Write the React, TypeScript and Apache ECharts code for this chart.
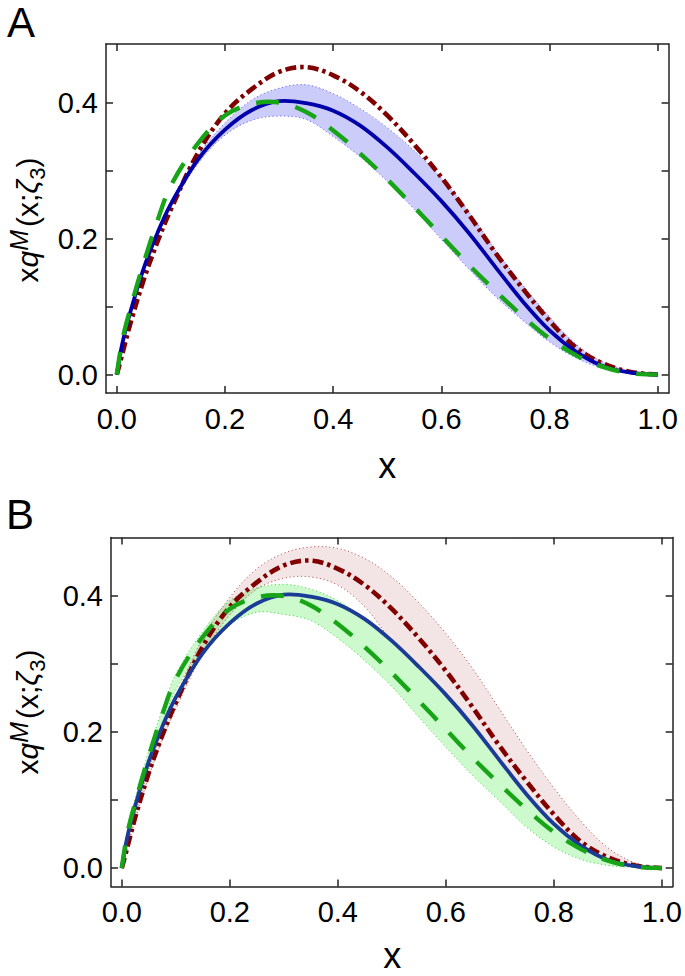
import React, { useEffect, useRef } from "react";
import * as echarts from "echarts";

// x sample positions
const xs = [0, 0.01, 0.025, 0.05, 0.075, 0.1, 0.15, 0.2, 0.25, 0.3, 0.35, 0.4, 0.45, 0.5, 0.55, 0.6, 0.65, 0.7, 0.75, 0.8, 0.85, 0.9, 0.95, 1.0];

// central curves (identical in both panels)
const blueCentral = [0, 0.045, 0.092, 0.157, 0.208, 0.251, 0.316, 0.36, 0.389, 0.402, 0.399, 0.388, 0.366, 0.334, 0.296, 0.255, 0.209, 0.158, 0.108, 0.065, 0.033, 0.012, 0.003, 0];
const redDashDot = [0, 0.03, 0.075, 0.14, 0.195, 0.243, 0.326, 0.384, 0.42, 0.445, 0.452, 0.44, 0.416, 0.381, 0.338, 0.29, 0.236, 0.179, 0.127, 0.079, 0.039, 0.016, 0.004, 0];
const greenDashed = [0, 0.05, 0.097, 0.165, 0.226, 0.278, 0.34, 0.381, 0.398, 0.4, 0.386, 0.359, 0.325, 0.287, 0.246, 0.204, 0.162, 0.123, 0.086, 0.053, 0.028, 0.011, 0.002, 0];

// panel A band (blue)
const blueBandUpper = [0, 0.046, 0.094, 0.16, 0.212, 0.255, 0.322, 0.37, 0.404, 0.421, 0.426, 0.413, 0.391, 0.363, 0.329, 0.289, 0.24, 0.183, 0.132, 0.085, 0.044, 0.018, 0.005, 0];
const blueBandLower = [0, 0.044, 0.09, 0.153, 0.203, 0.246, 0.31, 0.352, 0.374, 0.38, 0.375, 0.35, 0.32, 0.284, 0.243, 0.199, 0.156, 0.115, 0.08, 0.048, 0.024, 0.009, 0.0015, 0];

// panel B bands (red and green)
const redBandUpper = [0, 0.032, 0.079, 0.146, 0.203, 0.252, 0.338, 0.398, 0.44, 0.463, 0.472, 0.47, 0.455, 0.428, 0.39, 0.345, 0.293, 0.233, 0.173, 0.118, 0.069, 0.03, 0.008, 0];
const redBandLower = [0, 0.028, 0.071, 0.134, 0.188, 0.234, 0.315, 0.372, 0.41, 0.426, 0.428, 0.416, 0.384, 0.334, 0.295, 0.254, 0.207, 0.156, 0.106, 0.063, 0.032, 0.011, 0.0025, 0];
const greenBandUpper = [0, 0.054, 0.103, 0.173, 0.233, 0.285, 0.348, 0.393, 0.412, 0.417, 0.41, 0.393, 0.367, 0.336, 0.298, 0.258, 0.211, 0.16, 0.11, 0.067, 0.035, 0.013, 0.0035, 0];
const greenBandLower = [0, 0.046, 0.091, 0.157, 0.212, 0.262, 0.32, 0.358, 0.376, 0.373, 0.364, 0.338, 0.305, 0.267, 0.222, 0.178, 0.136, 0.098, 0.06, 0.031, 0.013, 0.004, 0.001, 0];

// ticks
const xTickVals = [0, 0.2, 0.4, 0.6, 0.8, 1.0];
const yTickVals = [0, 0.1, 0.2, 0.3, 0.4];
const yLabelVals = [0, 0.2, 0.4];

const FONT = "'Liberation Sans', Arial, sans-serif";
const FRAME = "#222";
const SMOOTH = 0.35;

function mkX(gridIndex: number, position: string, labels: boolean) {
  return {
    type: "value",
    gridIndex,
    position,
    min: -0.02,
    max: 1.02,
    axisLine: { show: true, onZero: false, lineStyle: { color: FRAME, width: 1.5 } },
    axisTick: { show: true, inside: true, length: 7, customValues: xTickVals, lineStyle: { color: FRAME, width: 1.5 } },
    axisLabel: {
      show: labels,
      customValues: xTickVals,
      formatter: (v: number) => v.toFixed(1),
      margin: 11,
      fontSize: 29,
      fontFamily: FONT,
      color: "#000",
    },
    splitLine: { show: false },
  };
}

function mkY(gridIndex: number, position: string, labels: boolean) {
  return {
    type: "value",
    gridIndex,
    position,
    min: -0.027,
    max: 0.486,
    axisLine: { show: true, onZero: false, lineStyle: { color: FRAME, width: 1.5 } },
    axisTick: { show: true, inside: true, length: 7, customValues: yTickVals, lineStyle: { color: FRAME, width: 1.5 } },
    axisLabel: {
      show: labels,
      customValues: yLabelVals,
      formatter: (v: number) => v.toFixed(1),
      margin: 8,
      fontSize: 29,
      fontFamily: FONT,
      color: "#000",
    },
    splitLine: { show: false },
  };
}

// band drawn through the axes with a custom series (fill + dotted edges)
function band(axis: number, up: number[], lo: number[], fill: string, edge: string) {
  return {
    type: "custom",
    coordinateSystem: "cartesian2d",
    xAxisIndex: axis,
    yAxisIndex: axis,
    silent: true,
    data: [[0.5, 0.2]],
    renderItem: (_params: any, api: any) => {
      const u = xs.map((x, i) => api.coord([x, up[i]]));
      const l = xs.map((x, i) => api.coord([x, lo[i]]));
      const poly = u.concat(l.slice().reverse());
      return {
        type: "group",
        children: [
          { type: "polygon", shape: { points: poly, smooth: SMOOTH }, style: { fill, stroke: "none" } },
          { type: "polyline", shape: { points: u, smooth: SMOOTH }, style: { fill: "none", stroke: edge, lineWidth: 1, lineDash: [1.2, 2.6] } },
          { type: "polyline", shape: { points: l, smooth: SMOOTH }, style: { fill: "none", stroke: edge, lineWidth: 1, lineDash: [1.2, 2.6] } },
        ],
      };
    },
  };
}

// a single curve through the axes (custom series, smooth polyline)
function curve(axis: number, name: string, ys: number[], stroke: string, width: number, dash: number[] | null) {
  return {
    type: "custom",
    name,
    coordinateSystem: "cartesian2d",
    xAxisIndex: axis,
    yAxisIndex: axis,
    silent: true,
    data: [[0.5, 0.2]],
    renderItem: (_params: any, api: any) => {
      const p = xs.map((x, i) => api.coord([x, ys[i]]));
      return {
        type: "polyline",
        shape: { points: p, smooth: SMOOTH },
        style: { fill: "none", stroke, lineWidth: width, lineDash: dash || undefined, lineCap: "butt", lineJoin: "round" },
      };
    },
  };
}

function curves(axis: number, blueColor: string) {
  return [
    curve(axis, "red", redDashDot, "#800000", 4.6, [11, 4, 3.5, 4]),
    curve(axis, "blue", blueCentral, blueColor, 3.8, null),
    curve(axis, "green", greenDashed, "#17a517", 4.4, [23, 17]),
  ];
}

const yTitleRich = {
  n: { fontSize: 30, fontFamily: FONT, lineHeight: 42, verticalAlign: "middle" },
  i: { fontSize: 30, fontFamily: FONT, fontStyle: "italic", lineHeight: 42, verticalAlign: "middle" },
  sup: { fontSize: 25, fontFamily: FONT, fontStyle: "italic", lineHeight: 25, verticalAlign: "top", padding: [0, 3, 0, 0] },
  sub: { fontSize: 22, fontFamily: FONT, lineHeight: 22, verticalAlign: "bottom" },
};
const yTitleText = "{n|x}{i|q}{sup|M}{n|(x;}{i|ζ}{sub|3}{n|)}";

function yTitle(cx: number, cy: number) {
  return {
    type: "text",
    x: cx,
    y: cy,
    rotation: Math.PI / 2,
    style: { text: yTitleText, rich: yTitleRich, fill: "#000", align: "center", verticalAlign: "middle", textAlign: "center", textVerticalAlign: "middle" },
  };
}

function plainText(text: string, x: number, y: number, size: number, align: string) {
  return {
    type: "text",
    x,
    y,
    style: { text, fill: "#000", font: `${size}px ${FONT}`, align, verticalAlign: "middle", textAlign: align, textVerticalAlign: "middle" },
  };
}

export default function App() {
  const ref = useRef<HTMLDivElement>(null);
  useEffect(() => {
    if (!ref.current) return;
    const chart = echarts.init(ref.current, undefined, { renderer: "svg" });
    const option = {
      animation: false,
      backgroundColor: "#fff",
      grid: [
        { left: 106, top: 44, width: 562.6, height: 349 },
        { left: 111, top: 537.5, width: 562.6, height: 349 },
      ],
      xAxis: [mkX(0, "bottom", true), mkX(0, "top", false), mkX(1, "bottom", true), mkX(1, "top", false)],
      yAxis: [mkY(0, "left", true), mkY(0, "right", false), mkY(1, "left", true), mkY(1, "right", false)],
      series: [
        band(0, blueBandUpper, blueBandLower, "rgba(0,0,235,0.2)", "#6a6af0"),
        ...curves(0, "#0000aa"),
        band(2, greenBandUpper, greenBandLower, "rgba(0,230,0,0.2)", "#55d855"),
        band(2, redBandUpper, redBandLower, "rgba(140,0,0,0.1)", "#b86060"),
        ...curves(2, "#1a3c96"),
      ],
      graphic: [
        plainText("A", 7, 22, 42, "left"),
        plainText("B", 6, 514, 42, "left"),
        plainText("x", 387.3, 465.5, 36, "center"),
        plainText("x", 392.3, 955, 36, "center"),
        yTitle(27, 220),
        yTitle(27, 712),
      ],
    };
    chart.setOption(option as any);
    return () => chart.dispose();
  }, []);
  return <div ref={ref} style={{ position: "absolute", left: 0, top: 0, width: 685, height: 976, background: "#fff" }} />;
}
